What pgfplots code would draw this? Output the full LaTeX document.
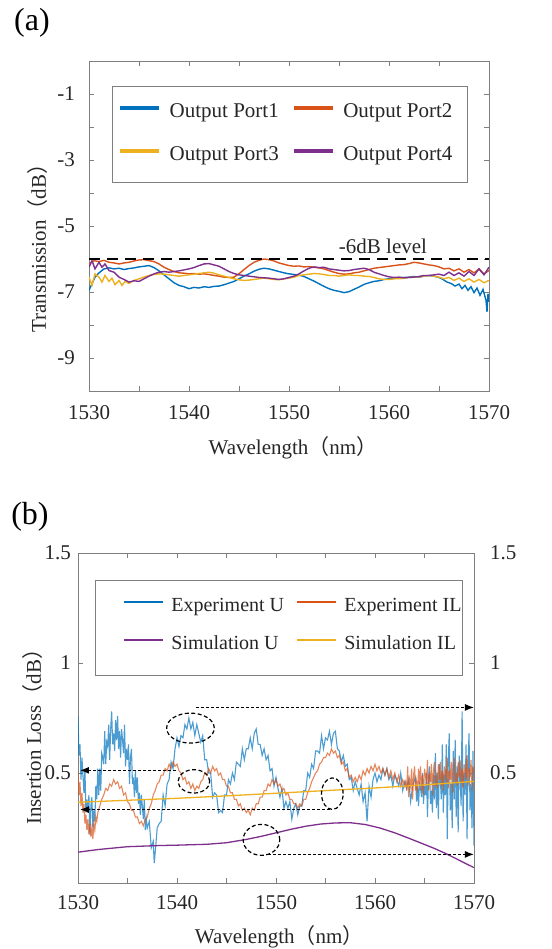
\documentclass[border=0pt]{standalone}
\usepackage{fontspec}
\setmainfont{Liberation Serif}
\newfontfamily\cjk{Noto Sans CJK SC}
\usepackage{pgfplots}
\pgfplotsset{compat=1.18}
\usetikzlibrary{arrows.meta}
\definecolor{mblue}{HTML}{0072BD}
\definecolor{morange}{HTML}{D95319}
\definecolor{myellow}{HTML}{EDB120}
\definecolor{mpurple}{HTML}{7E2F8E}
\definecolor{axgray}{HTML}{7F7F7F}
\definecolor{txt}{HTML}{262626}
\newcommand{\fs}{\fontsize{21bp}{25bp}\selectfont}
\newcommand{\fsl}{\fontsize{20bp}{24bp}\selectfont}

\pgfplotsset{
  common/.style={
    scale only axis,
    xmin=1530, xmax=1570,
    xtick={1530,1540,1550,1560,1570},
    xticklabels={1530,1540,1550,1560,1570},
    minor xtick={1535,1545,1555,1565},
    axis line style={axgray, line width=0.8bp},
    every tick/.style={axgray, line width=0.8bp},
    major tick length=5bp, minor tick length=5bp,
    tick label style={font=\fs, text=txt, inner sep=0pt},
    label style={font=\fs, text=txt},
    legend cell align=left,
    legend columns=2,
  },
}

\begin{document}
\begin{tikzpicture}
\path[use as bounding box] (0,0) rectangle (552bp,949bp);

% ---------- (a) ----------
\begin{axis}[common,
  at={(89bp,558bp)}, anchor=south west, width=400bp, height=330bp,
  ymin=-10, ymax=0,
  ytick={-1,-3,-5,-7,-9}, yticklabels={-1,-3,-5,-7,-9},
  minor ytick={-2,-4,-6,-8},
  xticklabel shift=14bp, yticklabel shift=14bp,
  xlabel={Wavelength{\cjk （}nm{\cjk ）}},
  ylabel={Transmission{\cjk （}dB{\cjk ）}},
  xlabel style={at={(axis description cs:0.51,-0.173)}, anchor=center},
  ylabel style={at={(axis description cs:-0.1275,0.448)}, anchor=center},
  legend style={draw=none, fill=none, at={(axis description cs:0.0725,0.777)}, anchor=west,
    inner sep=0pt, font=\fs, text=txt,
    nodes={inner sep=0pt, text height=14bp, text depth=5bp},
    row sep=24bp,
    /tikz/every odd column/.append style={column sep=9bp},
    /tikz/every even column/.append style={column sep=13bp}},
  legend image code/.code={\draw[#1, line width=3.5bp] (0bp,5bp) -- (39bp,5bp);},
]
\addplot[mblue, line width=1.4bp] coordinates {
(1530,-6.95)(1530.3,-6.75)(1530.6,-6.55)(1531,-6.42)(1531.5,-6.3)(1532,-6.27)(1532.5,-6.3)(1533,-6.28)(1533.5,-6.32)(1534,-6.29)(1534.5,-6.27)(1535,-6.24)(1535.5,-6.22)(1536,-6.2)(1536.5,-6.26)(1537,-6.36)(1537.5,-6.48)(1538,-6.6)(1538.5,-6.72)(1539,-6.8)(1539.5,-6.84)(1540,-6.9)(1540.5,-6.86)(1541,-6.88)(1541.5,-6.84)(1542,-6.86)(1542.5,-6.83)(1543,-6.82)(1543.5,-6.78)(1544,-6.73)(1544.5,-6.68)(1545,-6.6)(1545.5,-6.52)(1546,-6.45)(1546.5,-6.37)(1547,-6.31)(1547.5,-6.28)(1548,-6.3)(1548.5,-6.34)(1549,-6.38)(1549.5,-6.42)(1550,-6.45)(1550.5,-6.47)(1551,-6.49)(1551.5,-6.53)(1552,-6.6)(1552.5,-6.67)(1553,-6.75)(1553.5,-6.83)(1554,-6.9)(1554.5,-6.95)(1555,-6.98)(1555.5,-7.02)(1556,-6.99)(1556.5,-6.92)(1557,-6.85)(1557.5,-6.77)(1558,-6.72)(1558.5,-6.68)(1559,-6.66)(1559.5,-6.62)(1560,-6.6)(1560.5,-6.59)(1561,-6.57)(1561.5,-6.56)(1562,-6.55)(1562.5,-6.53)(1563,-6.55)(1563.5,-6.52)(1564,-6.5)(1564.5,-6.52)(1565,-6.56)(1565.4,-6.62)(1565.8,-6.7)(1566.2,-6.74)(1566.6,-6.82)(1567,-6.76)(1567.3,-6.9)(1567.6,-6.8)(1567.9,-6.95)(1568.2,-6.84)(1568.5,-7.02)(1568.8,-6.88)(1569.1,-7.1)(1569.4,-6.92)(1569.7,-7.25)(1569.8,-7.6)(1569.9,-7.05)(1570,-7.3)
};
\addlegendentry{Output Port1}
\addplot[morange, line width=1.4bp] coordinates {
(1530,-6.15)(1530.5,-6.05)(1531,-6.08)(1531.5,-6.04)(1532,-6.1)(1532.5,-6.12)(1533,-6.15)(1533.5,-6.12)(1534,-6.1)(1534.5,-6.06)(1535,-6.03)(1535.5,-6.02)(1536,-6.05)(1536.5,-6.08)(1537,-6.15)(1537.5,-6.25)(1538,-6.32)(1538.5,-6.38)(1539,-6.42)(1539.5,-6.43)(1540,-6.45)(1540.5,-6.44)(1541,-6.46)(1541.5,-6.45)(1542,-6.47)(1542.5,-6.5)(1543,-6.52)(1543.5,-6.55)(1544,-6.56)(1544.5,-6.55)(1545,-6.45)(1545.5,-6.32)(1546,-6.2)(1546.5,-6.1)(1547,-6.04)(1547.5,-6.0)(1548,-6.02)(1548.5,-6.06)(1549,-6.12)(1549.5,-6.16)(1550,-6.2)(1550.5,-6.22)(1551,-6.21)(1551.5,-6.24)(1552,-6.23)(1552.5,-6.25)(1553,-6.27)(1553.5,-6.3)(1554,-6.35)(1554.5,-6.4)(1555,-6.44)(1555.5,-6.46)(1556,-6.45)(1556.5,-6.42)(1557,-6.4)(1557.5,-6.36)(1558,-6.32)(1558.5,-6.28)(1559,-6.26)(1559.5,-6.24)(1560,-6.22)(1560.5,-6.2)(1561,-6.18)(1561.5,-6.17)(1562,-6.14)(1562.5,-6.1)(1563,-6.12)(1563.5,-6.15)(1564,-6.18)(1564.5,-6.2)(1565,-6.24)(1565.5,-6.3)(1566,-6.28)(1566.5,-6.36)(1567,-6.3)(1567.5,-6.4)(1568,-6.32)(1568.5,-6.42)(1569,-6.3)(1569.5,-6.45)(1570,-6.35)
};
\addlegendentry{Output Port2}
\addplot[myellow, line width=1.4bp] coordinates {
(1530,-6.55)(1530.3,-6.8)(1530.6,-6.45)(1531,-6.55)(1531.3,-6.7)(1531.6,-6.5)(1532,-6.68)(1532.3,-6.58)(1532.6,-6.78)(1533,-6.65)(1533.3,-6.8)(1533.6,-6.68)(1534,-6.74)(1534.5,-6.65)(1535,-6.6)(1535.5,-6.55)(1536,-6.5)(1536.5,-6.47)(1537,-6.45)(1537.5,-6.46)(1538,-6.48)(1538.5,-6.5)(1539,-6.52)(1539.5,-6.5)(1540,-6.48)(1540.5,-6.46)(1541,-6.44)(1541.5,-6.42)(1542,-6.4)(1542.5,-6.43)(1543,-6.48)(1543.5,-6.52)(1544,-6.56)(1544.5,-6.6)(1545,-6.63)(1545.5,-6.65)(1546,-6.64)(1546.5,-6.62)(1547,-6.6)(1547.5,-6.58)(1548,-6.6)(1548.5,-6.62)(1549,-6.63)(1549.5,-6.6)(1550,-6.58)(1550.5,-6.55)(1551,-6.5)(1551.5,-6.48)(1552,-6.46)(1552.5,-6.44)(1553,-6.45)(1553.5,-6.47)(1554,-6.5)(1554.5,-6.5)(1555,-6.52)(1555.5,-6.5)(1556,-6.48)(1556.5,-6.5)(1557,-6.5)(1557.5,-6.52)(1558,-6.53)(1558.5,-6.56)(1559,-6.6)(1559.5,-6.62)(1560,-6.62)(1560.5,-6.6)(1561,-6.6)(1561.5,-6.58)(1562,-6.56)(1562.5,-6.55)(1563,-6.54)(1563.5,-6.52)(1564,-6.5)(1564.5,-6.52)(1565,-6.55)(1565.5,-6.6)(1566,-6.56)(1566.5,-6.65)(1567,-6.58)(1567.5,-6.68)(1568,-6.6)(1568.5,-6.7)(1569,-6.62)(1569.5,-6.72)(1570,-6.65)
};
\addlegendentry{Output Port3}
\addplot[mpurple, line width=1.4bp] coordinates {
(1530,-6.25)(1530.3,-6.05)(1530.6,-6.3)(1531,-6.1)(1531.3,-6.25)(1531.6,-6.15)(1532,-6.35)(1532.5,-6.4)(1533,-6.55)(1533.5,-6.62)(1534,-6.7)(1534.5,-6.66)(1535,-6.68)(1535.5,-6.6)(1536,-6.52)(1536.5,-6.45)(1537,-6.4)(1537.5,-6.38)(1538,-6.4)(1538.5,-6.38)(1539,-6.36)(1539.5,-6.33)(1540,-6.3)(1540.5,-6.26)(1541,-6.2)(1541.5,-6.15)(1542,-6.14)(1542.5,-6.18)(1543,-6.22)(1543.5,-6.3)(1544,-6.38)(1544.5,-6.44)(1545,-6.48)(1545.5,-6.5)(1546,-6.52)(1546.5,-6.54)(1547,-6.56)(1547.5,-6.57)(1548,-6.58)(1548.5,-6.6)(1549,-6.62)(1549.5,-6.6)(1550,-6.56)(1550.5,-6.52)(1551,-6.45)(1551.5,-6.36)(1552,-6.28)(1552.5,-6.24)(1553,-6.26)(1553.5,-6.25)(1554,-6.3)(1554.5,-6.32)(1555,-6.34)(1555.5,-6.36)(1556,-6.35)(1556.5,-6.32)(1557,-6.3)(1557.5,-6.28)(1558,-6.32)(1558.5,-6.4)(1559,-6.45)(1559.5,-6.5)(1560,-6.54)(1560.5,-6.56)(1561,-6.55)(1561.5,-6.57)(1562,-6.56)(1562.5,-6.55)(1563,-6.53)(1563.5,-6.5)(1564,-6.5)(1564.5,-6.48)(1565,-6.46)(1565.5,-6.5)(1566,-6.4)(1566.5,-6.5)(1567,-6.42)(1567.5,-6.52)(1568,-6.38)(1568.5,-6.5)(1569,-6.3)(1569.5,-6.48)(1570,-6.25)
};
\addlegendentry{Output Port4}
\addplot[black, line width=1.5bp, dash pattern=on 11bp off 7bp, forget plot] coordinates {(1530,-6) (1570,-6)};
\draw[axgray, line width=0.8bp] (axis description cs:0.0575,0.924) rectangle (axis description cs:0.945,0.633);
\node[font=\fs, text=txt] at (axis cs:1559.4,-5.61) {-6dB level};
\end{axis}

% ---------- (b) ----------
\begin{axis}[common,
  at={(78bp,66bp)}, anchor=south west, width=396bp, height=330bp,
  ymin=0, ymax=1.5,
  ytick={0.5,1,1.5}, yticklabels={0.5,1,1.5},
  xticklabel shift=12bp, yticklabel shift=7bp,
  xlabel={Wavelength{\cjk （}nm{\cjk ）}},
  ylabel={Insertion Loss{\cjk （}dB{\cjk ）}},
  xlabel style={at={(axis description cs:0.508,-0.163)}, anchor=center},
  ylabel style={at={(axis description cs:-0.114,0.458)}, anchor=center},
  legend style={draw=none, fill=none, at={(axis description cs:0.1136,0.779)}, anchor=west,
    inner sep=0pt, font=\fsl, text=txt,
    nodes={inner sep=0pt, text height=14bp, text depth=5bp},
    row sep=19bp,
    /tikz/every odd column/.append style={column sep=7bp},
    /tikz/every even column/.append style={column sep=12bp}},
  legend image code/.code={\draw[#1, line width=2.2bp, opacity=1] (0bp,5bp) -- (39bp,5bp);},
]
\addplot[mblue, line width=1.1bp, opacity=0.7] coordinates {
(1530.0,0.76)(1530.1,0.58)(1530.2,0.63)(1530.3,0.47)(1530.4,0.57)(1530.5,0.49)(1530.6,0.41)(1530.7,0.52)(1530.8,0.32)(1530.9,0.38)
(1531.0,0.32)(1531.1,0.40)(1531.2,0.22)(1531.3,0.35)(1531.4,0.39)(1531.5,0.25)(1531.6,0.33)(1531.7,0.28)(1531.8,0.44)(1531.9,0.38)
(1532.0,0.52)(1532.1,0.40)(1532.2,0.52)(1532.3,0.42)(1532.4,0.59)(1532.5,0.57)(1532.6,0.54)(1532.7,0.69)(1532.8,0.54)(1532.9,0.64)
(1533.0,0.62)(1533.1,0.72)(1533.2,0.56)(1533.3,0.70)(1533.4,0.78)(1533.5,0.63)(1533.6,0.68)(1533.7,0.60)(1533.8,0.74)(1533.9,0.65)
(1534.0,0.76)(1534.1,0.61)(1534.2,0.69)(1534.3,0.57)(1534.4,0.70)(1534.5,0.65)(1534.6,0.59)(1534.7,0.72)(1534.8,0.53)(1534.9,0.61)
(1535.0,0.56)(1535.1,0.63)(1535.2,0.45)(1535.3,0.57)(1535.4,0.61)(1535.5,0.45)(1535.6,0.48)(1535.7,0.39)(1535.8,0.51)(1535.9,0.41)
(1536.0,0.48)(1536.1,0.36)(1536.2,0.41)(1536.3,0.31)(1536.4,0.40)(1536.5,0.35)(1536.6,0.29)(1536.7,0.38)(1536.8,0.24)(1536.9,0.29)
(1537.0,0.25)(1537.2,0.28)(1537.4,0.16)(1537.6,0.19)(1537.7,0.09)(1537.8,0.14)(1538.0,0.25)(1538.2,0.27)(1538.4,0.28)(1538.6,0.40)
(1538.8,0.35)(1539.0,0.45)(1539.2,0.47)(1539.4,0.55)(1539.6,0.52)(1539.8,0.61)(1540.0,0.66)(1540.2,0.62)(1540.4,0.67)(1540.6,0.66)
(1540.8,0.72)(1541.0,0.70)(1541.2,0.75)(1541.4,0.70)(1541.6,0.73)(1541.8,0.67)(1542.0,0.72)(1542.2,0.68)(1542.4,0.64)(1542.6,0.67)
(1542.8,0.56)(1543.0,0.56)(1543.2,0.50)(1543.4,0.50)(1543.6,0.39)(1543.8,0.41)(1544.0,0.40)(1544.2,0.32)(1544.4,0.33)(1544.6,0.32)
(1544.8,0.40)(1545.0,0.40)(1545.2,0.47)(1545.4,0.45)(1545.6,0.50)(1545.8,0.47)(1546.0,0.55)(1546.2,0.54)(1546.4,0.53)(1546.6,0.61)
(1546.8,0.56)(1547.0,0.61)(1547.2,0.61)(1547.4,0.66)(1547.6,0.61)(1547.8,0.68)(1548.0,0.70)(1548.2,0.63)(1548.4,0.63)(1548.6,0.58)
(1548.8,0.61)(1549.0,0.56)(1549.2,0.58)(1549.4,0.51)(1549.6,0.52)(1549.8,0.44)(1550.0,0.48)(1550.2,0.43)(1550.4,0.39)(1550.6,0.43)
(1550.8,0.34)(1551.0,0.37)(1551.2,0.34)(1551.4,0.37)(1551.6,0.29)(1551.8,0.34)(1552.0,0.36)(1552.2,0.31)(1552.4,0.35)(1552.6,0.35)
(1552.8,0.42)(1553.0,0.42)(1553.2,0.50)(1553.4,0.48)(1553.6,0.54)(1553.8,0.52)(1554.0,0.60)(1554.2,0.60)(1554.4,0.59)(1554.6,0.67)
(1554.8,0.61)(1555.0,0.66)(1555.2,0.65)(1555.4,0.69)(1555.6,0.63)(1555.8,0.68)(1556.0,0.69)(1556.2,0.61)(1556.4,0.60)(1556.6,0.55)
(1556.8,0.58)(1557.0,0.53)(1557.2,0.54)(1557.4,0.47)(1557.6,0.48)(1557.8,0.42)(1558.0,0.46)(1558.2,0.43)(1558.4,0.40)(1558.6,0.45)
(1558.8,0.37)(1559.0,0.41)(1559.2,0.28)(1559.4,0.44)(1559.6,0.39)(1559.8,0.47)(1560.0,0.50)(1560.2,0.46)(1560.4,0.49)(1560.6,0.47)
(1560.8,0.52)(1561.0,0.49)(1561.2,0.52)(1561.4,0.47)(1561.6,0.49)(1561.8,0.44)(1562.0,0.49)(1562.2,0.47)(1562.4,0.44)(1562.6,0.50)
(1562.8,0.42)(1563.0,0.46)(1563.2,0.43)(1563.4,0.47)(1563.6,0.37)(1563.8,0.44)(1564.0,0.47)(1564.1,0.48)(1564.2,0.37)(1564.3,0.44)
(1564.4,0.35)(1564.5,0.46)(1564.6,0.43)(1564.7,0.39)(1564.8,0.50)(1564.9,0.36)(1565.0,0.44)(1565.1,0.40)(1565.2,0.50)(1565.3,0.30)
(1565.4,0.47)(1565.5,0.53)(1565.6,0.36)(1565.7,0.42)(1565.8,0.32)(1565.9,0.49)(1566.0,0.38)(1566.1,0.59)(1566.2,0.34)(1566.3,0.50)
(1566.4,0.29)(1566.5,0.54)(1566.6,0.47)(1566.7,0.38)(1566.8,0.63)(1566.9,0.32)(1567.0,0.49)(1567.1,0.40)(1567.2,0.63)(1567.3,0.20)
(1567.4,0.55)(1567.5,0.68)(1567.6,0.33)(1567.7,0.45)(1567.8,0.25)(1567.9,0.60)(1568.0,0.38)(1568.1,0.65)(1568.2,0.30)(1568.3,0.53)
(1568.4,0.23)(1568.5,0.58)(1568.6,0.48)(1568.7,0.35)(1568.8,0.78)(1568.9,0.28)(1569.0,0.50)(1569.1,0.40)(1569.2,0.63)(1569.3,0.20)
(1569.4,0.55)(1569.5,0.68)(1569.6,0.33)(1569.7,0.45)(1569.8,0.25)(1569.9,0.60)(1570.0,0.17)
};
\addlegendentry{Experiment U}
\addplot[morange, line width=1.1bp, opacity=0.7] coordinates {
(1530.00,0.50)(1530.10,0.40)(1530.20,0.46)(1530.30,0.35)(1530.40,0.41)(1530.50,0.32)(1530.60,0.36)(1530.70,0.27)(1530.80,0.31)(1530.90,0.24)
(1531.00,0.29)(1531.10,0.22)(1531.20,0.27)(1531.30,0.21)(1531.40,0.25)(1531.50,0.20)(1531.60,0.27)(1531.70,0.24)(1531.80,0.30)(1531.90,0.28)
(1532.00,0.32)(1532.20,0.35)(1532.40,0.38)(1532.60,0.40)(1532.80,0.43)(1533.00,0.42)(1533.20,0.45)(1533.40,0.44)(1533.60,0.47)(1533.80,0.45)
(1534.00,0.46)(1534.20,0.43)(1534.40,0.44)(1534.60,0.40)(1534.80,0.41)(1535.00,0.37)(1535.20,0.36)(1535.40,0.33)(1535.60,0.33)(1535.80,0.30)
(1536.00,0.30)(1536.20,0.27)(1536.40,0.28)(1536.60,0.26)(1536.80,0.29)(1537.00,0.30)(1537.20,0.34)(1537.40,0.36)(1537.60,0.40)(1537.80,0.42)
(1538.00,0.45)(1538.20,0.46)(1538.40,0.49)(1538.60,0.49)(1538.80,0.52)(1539.00,0.51)(1539.20,0.54)(1539.40,0.52)(1539.60,0.55)(1539.80,0.53)
(1540.00,0.54)(1540.20,0.51)(1540.40,0.50)(1540.60,0.47)(1540.80,0.48)(1541.00,0.45)(1541.20,0.46)(1541.40,0.43)(1541.60,0.45)(1541.80,0.42)
(1542.00,0.44)(1542.20,0.43)(1542.40,0.46)(1542.60,0.47)(1542.80,0.50)(1543.00,0.49)(1543.20,0.52)(1543.40,0.50)(1543.60,0.53)(1543.80,0.51)
(1544.00,0.52)(1544.20,0.49)(1544.40,0.50)(1544.60,0.47)(1544.80,0.47)(1545.00,0.44)(1545.20,0.44)(1545.40,0.41)(1545.60,0.41)(1545.80,0.38)
(1546.00,0.38)(1546.20,0.35)(1546.40,0.36)(1546.60,0.33)(1546.80,0.34)(1547.00,0.32)(1547.20,0.33)(1547.40,0.31)(1547.60,0.34)(1547.80,0.33)
(1548.00,0.36)(1548.20,0.36)(1548.40,0.39)(1548.60,0.39)(1548.80,0.42)(1549.00,0.42)(1549.20,0.45)(1549.40,0.44)(1549.60,0.47)(1549.80,0.45)
(1550.00,0.47)(1550.20,0.44)(1550.40,0.45)(1550.60,0.42)(1550.80,0.43)(1551.00,0.40)(1551.20,0.41)(1551.40,0.38)(1551.60,0.38)(1551.80,0.36)
(1552.00,0.36)(1552.20,0.34)(1552.40,0.36)(1552.60,0.35)(1552.80,0.38)(1553.00,0.38)(1553.20,0.41)(1553.40,0.43)(1553.60,0.46)(1553.80,0.48)
(1554.00,0.50)(1554.20,0.51)(1554.40,0.54)(1554.60,0.55)(1554.80,0.57)(1555.00,0.57)(1555.20,0.59)(1555.40,0.58)(1555.60,0.61)(1555.80,0.59)
(1556.00,0.60)(1556.20,0.57)(1556.40,0.58)(1556.60,0.54)(1556.80,0.55)(1557.00,0.51)(1557.20,0.52)(1557.40,0.48)(1557.60,0.49)(1557.80,0.46)
(1558.00,0.48)(1558.20,0.46)(1558.40,0.49)(1558.60,0.47)(1558.80,0.51)(1559.00,0.49)(1559.20,0.52)(1559.40,0.50)(1559.60,0.53)(1559.80,0.51)
(1560.00,0.54)(1560.20,0.51)(1560.40,0.53)(1560.60,0.50)(1560.80,0.52)(1561.00,0.49)(1561.20,0.52)(1561.40,0.48)(1561.60,0.51)(1561.80,0.47)
(1562.00,0.50)(1562.20,0.46)(1562.40,0.49)(1562.60,0.44)(1562.80,0.47)(1563.00,0.44)
(1563.1,0.46)(1563.2,0.42)(1563.3,0.53)(1563.4,0.39)(1563.5,0.47)(1563.6,0.44)(1563.7,0.52)(1563.8,0.38)(1563.9,0.49)(1564.0,0.53)
(1564.1,0.42)(1564.2,0.46)(1564.3,0.41)(1564.4,0.52)(1564.5,0.45)(1564.6,0.53)(1564.7,0.42)(1564.8,0.49)(1564.9,0.40)(1565.0,0.52)
(1565.1,0.49)(1565.2,0.45)(1565.3,0.56)(1565.4,0.42)(1565.5,0.50)(1565.6,0.46)(1565.7,0.54)(1565.8,0.40)(1565.9,0.51)(1566.0,0.55)
(1566.1,0.44)(1566.2,0.48)(1566.3,0.43)(1566.4,0.54)(1566.5,0.47)(1566.6,0.55)(1566.7,0.44)(1566.8,0.51)(1566.9,0.42)(1567.0,0.53)
(1567.1,0.50)(1567.2,0.46)(1567.3,0.57)(1567.4,0.43)(1567.5,0.51)(1567.6,0.47)(1567.7,0.55)(1567.8,0.41)(1567.9,0.52)(1568.0,0.57)
(1568.1,0.46)(1568.2,0.50)(1568.3,0.44)(1568.4,0.55)(1568.5,0.48)(1568.6,0.56)(1568.7,0.45)(1568.8,0.52)(1568.9,0.43)(1569.0,0.54)
(1569.1,0.51)(1569.2,0.47)(1569.3,0.58)(1569.4,0.44)(1569.5,0.52)(1569.6,0.48)(1569.7,0.56)(1569.8,0.42)(1569.9,0.53)(1570.0,0.50)
};
\addlegendentry{Experiment IL}
\addplot[mpurple, line width=1.3bp] coordinates {
(1530,0.140)(1532,0.152)(1535,0.165)(1538,0.170)(1540,0.172)(1543,0.176)(1545,0.183)(1547,0.198)(1548.5,0.212)(1550,0.228)(1551.5,0.244)(1553,0.258)(1554.5,0.268)(1556,0.273)(1557.5,0.274)(1559,0.266)(1560.5,0.250)(1562,0.228)(1563.5,0.202)(1565,0.175)(1566,0.157)(1567,0.137)(1568,0.115)(1569,0.092)(1570,0.070)
};
\addlegendentry{Simulation U}
\addplot[myellow, line width=1.3bp] coordinates {
(1530,0.367)(1535,0.376)(1540,0.385)(1545,0.396)(1550,0.408)(1555,0.420)(1560,0.432)(1565,0.446)(1570,0.462)
};
\addlegendentry{Simulation IL}
\draw[axgray, line width=0.8bp] (axis description cs:0.043,0.918) rectangle (axis description cs:0.970,0.630);
% annotations
\begin{scope}[black, line width=1.2bp, dash pattern=on 4bp off 2.5bp]
\draw (axis cs:1541.36,0.704) ellipse [x radius=23.8bp, y radius=15bp];
\draw (axis cs:1541.71,0.462) ellipse [x radius=15.8bp, y radius=11.7bp];
\draw (axis cs:1555.69,0.406) ellipse [x radius=10.8bp, y radius=15.8bp];
\draw (axis cs:1548.53,0.196) ellipse [x radius=18.3bp, y radius=15.5bp];
\end{scope}
\begin{scope}[black, line width=1.3bp, dash pattern=on 3bp off 2bp, arrows={-{Latex[length=9bp,width=7bp]}}]
\draw (axis cs:1541.96,0.798) -- (axis cs:1570,0.798);
\draw (axis cs:1539.94,0.512) -- (axis cs:1530.2,0.512);
\draw (axis cs:1555.44,0.334) -- (axis cs:1530.2,0.334);
\draw (axis cs:1549.2,0.130) -- (axis cs:1570,0.130);
\end{scope}
\end{axis}
\begin{axis}[common,
  at={(78bp,66bp)}, anchor=south west, width=396bp, height=330bp,
  ymin=0, ymax=1.5, hide x axis, axis y line*=right,
  ytick={0.5,1,1.5}, yticklabels={0.5,1,1.5}, yticklabel shift=16bp,
]
\end{axis}

\node[font=\fontsize{32bp}{36bp}\selectfont, text=black] at (32bp,926bp) {(a)};
\node[font=\fontsize{32bp}{36bp}\selectfont, text=black] at (30bp,432bp) {(b)};
\end{tikzpicture}
\end{document}
